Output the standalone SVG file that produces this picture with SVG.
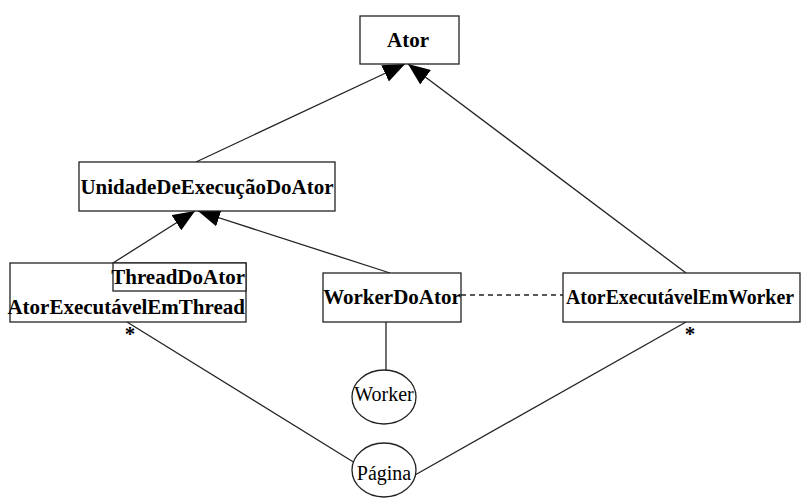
<svg xmlns="http://www.w3.org/2000/svg" width="802" height="498" viewBox="0 0 802 498">
<defs>
<style>
.box{fill:#fff;stroke:#222;stroke-width:1.3}
.ln{fill:none;stroke:#222;stroke-width:1.3}
.b{font-family:"Liberation Serif","Times New Roman","DejaVu Serif",serif;font-weight:bold;font-size:21px;fill:#000}
.n{font-family:"Liberation Serif","Times New Roman","DejaVu Serif",serif;font-size:20px;fill:#000}
</style>
<marker id="tri" viewBox="0 0 22 18" refX="22" refY="9" markerWidth="22" markerHeight="18" markerUnits="userSpaceOnUse" orient="auto">
<path d="M0,0 L22,9 L0,18 Z" fill="#000"/>
</marker>
</defs>
<rect width="802" height="498" fill="#fff"/>
<g id="connectors">
<line class="ln" x1="196" y1="162" x2="405" y2="64" marker-end="url(#tri)"/>
<line class="ln" x1="686" y1="273" x2="408" y2="64" marker-end="url(#tri)"/>
<line class="ln" x1="113" y1="263" x2="195" y2="211" marker-end="url(#tri)"/>
<line class="ln" x1="390" y1="273" x2="198" y2="211" marker-end="url(#tri)"/>
<line class="ln" x1="461" y1="295" x2="563" y2="295" stroke-dasharray="5,4"/>
<line class="ln" x1="386" y1="322" x2="386" y2="370"/>
<line class="ln" x1="127" y1="322" x2="355" y2="463"/>
<line class="ln" x1="686" y1="322" x2="415" y2="475"/>
</g>
<g id="ator">
<rect class="box" x="360" y="16" width="99" height="48"/>
<text class="b" x="408" y="47" text-anchor="middle">Ator</text>
</g>
<g id="unidade">
<rect class="box" x="79" y="162" width="256" height="49"/>
<text class="b" x="207" y="194" text-anchor="middle">UnidadeDeExecuçãoDoAtor</text>
</g>
<g id="thread">
<rect class="box" x="10" y="263" width="236" height="59"/>
<rect class="box" x="113" y="263" width="133" height="28"/>
<text class="b" x="245" y="284" text-anchor="end">ThreadDoAtor</text>
<text class="b" x="245" y="314" text-anchor="end">AtorExecutávelEmThread</text>
<text class="b" x="130" y="341" text-anchor="middle">*</text>
</g>
<g id="workerdoator">
<rect class="box" x="323" y="273" width="138" height="49"/>
<text class="b" x="392" y="304" text-anchor="middle">WorkerDoAtor</text>
</g>
<g id="workeremworker">
<rect class="box" x="563" y="273" width="237" height="49"/>
<text class="b" x="566" y="304" style="font-size:20px" textLength="228" lengthAdjust="spacingAndGlyphs">AtorExecutávelEmWorker</text>
<text class="b" x="690" y="341" text-anchor="middle">*</text>
</g>
<g id="worker">
<ellipse class="box" cx="384" cy="397" rx="32" ry="27"/>
<text class="n" x="384" y="401" text-anchor="middle">Worker</text>
</g>
<g id="pagina">
<ellipse class="box" cx="384" cy="470" rx="32" ry="27"/>
<text class="n" x="384" y="480" text-anchor="middle">Página</text>
</g>
</svg>
